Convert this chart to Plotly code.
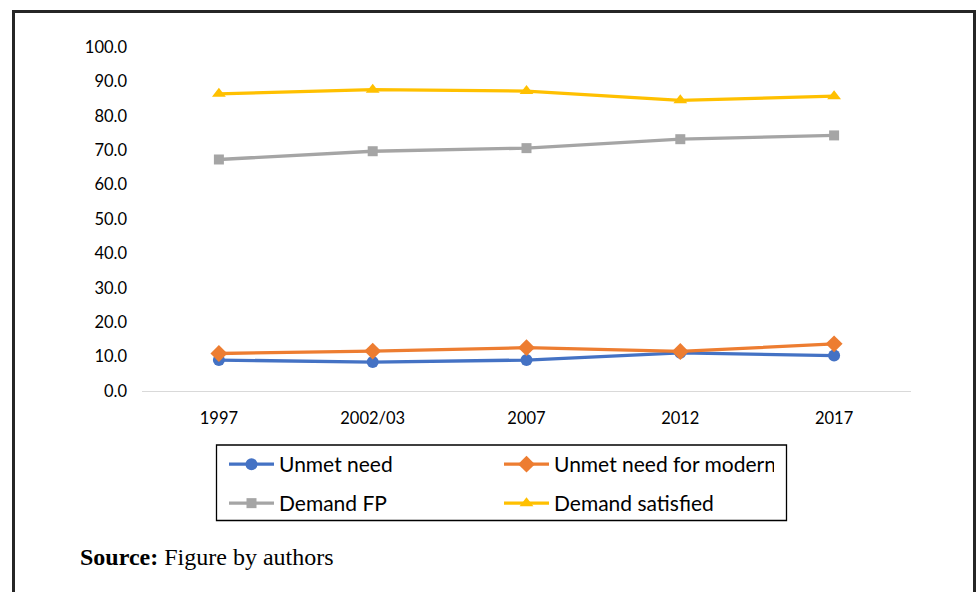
import plotly.graph_objects as go

years = ["1997", "2002/03", "2007", "2012", "2017"]
unmet_need = [9.0, 8.4, 9.0, 11.1, 10.3]
unmet_need_modern = [10.9, 11.6, 12.6, 11.5, 13.7]
demand_fp = [67.3, 69.7, 70.6, 73.2, 74.3]
demand_satisfied = [86.4, 87.6, 87.2, 84.5, 85.7]

series = [
    ("Unmet need", unmet_need, "#4472C4", "circle", 12, "legend"),
    ("Unmet need for modern", unmet_need_modern, "#ED7D31", "diamond", 13, "legend"),
    ("Demand FP", demand_fp, "#A5A5A5", "square", 10, "legend2"),
    ("Demand satisfied", demand_satisfied, "#FFC000", "triangle-up", 12, "legend2"),
]

W, H = 976, 592
L, R, T, B = 142, 65, 47, 201
pw, ph = W - L - R, H - T - B

def px(x):
    return (x - L) / pw

def py(y):
    return (H - B - y) / ph

fig = go.Figure()
for name, vals, color, sym, ms, lg in series:
    fig.add_trace(go.Scatter(
        x=years, y=vals, name=name, mode="lines+markers",
        line=dict(color=color, width=3.3),
        marker=dict(symbol=sym, size=ms, color=color),
        legend=lg,
    ))

legend_common = dict(orientation="h", xanchor="left", yanchor="top",
                     font=dict(size=21, family="Lato", color="#000000"),
                     itemwidth=45, entrywidth=215,
                     borderwidth=0, bgcolor="rgba(0,0,0,0)", traceorder="normal")

fig.update_layout(
    width=W, height=H,
    margin=dict(l=L, r=R, t=T, b=B),
    paper_bgcolor="white", plot_bgcolor="white",
    font=dict(family="Lato", color="#000000"),
    xaxis=dict(type="category", range=[-0.5, 4.5], showgrid=False, showline=True,
               linecolor="#D9D9D9", linewidth=1, ticks="",
               tickfont=dict(size=16.5, family="Lato", color="#000000"),
               ticklabelstandoff=12, zeroline=False),
    yaxis=dict(range=[0, 100], dtick=10, tick0=0, tickformat=".1f",
               showgrid=False, showline=False, zeroline=False, ticks="",
               tickfont=dict(size=16.5, family="Lato", color="#000000"),
               ticklabelstandoff=14),
    showlegend=True,
    legend=dict(x=px(224), y=py(444), **legend_common),
    legend2=dict(x=px(224), y=py(483), **legend_common),
    shapes=[
        # legend box
        dict(type="rect", xref="paper", yref="paper",
             x0=px(216.5), x1=px(786.5), y0=py(520.5), y1=py(445),
             line=dict(color="#000000", width=1.3), fillcolor="rgba(0,0,0,0)"),
        # outer frame
        dict(type="rect", xref="paper", yref="paper",
             x0=px(13.5), x1=px(974.5), y0=py(620), y1=py(11.5),
             line=dict(color="#262626", width=3), fillcolor="rgba(0,0,0,0)", layer="above"),
    ],
    annotations=[
        dict(xref="paper", yref="paper", x=px(78), y=py(557), xanchor="left", yanchor="middle",
             text="<b>Source:</b> Figure by authors", showarrow=False,
             font=dict(family="Liberation Serif", size=24, color="#000000")),
    ],
)

fig.write_html("out.html")
